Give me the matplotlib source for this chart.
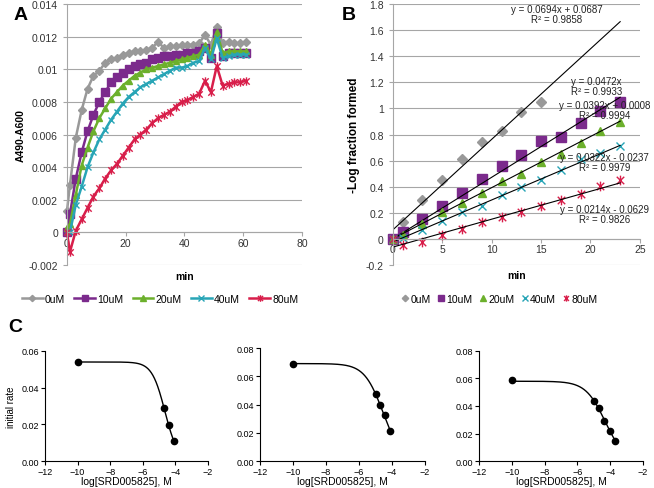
import numpy as np
import matplotlib.pyplot as plt
from matplotlib.path import Path

plt.rcParams['font.family'] = ['Liberation Sans', 'DejaVu Sans']

labels = ['0uM', '10uM', '20uM', '40uM', '80uM']
colors = ['#999999', '#7b2a8c', '#6cb02c', '#28a5b6', '#d81e4a']

# panel A: absorbance vs time
t_a = [0, 1, 3, 5, 7, 9, 11, 13, 15, 17, 19, 21, 23, 25, 27, 29, 31, 33, 35, 37,
       39, 41, 43, 45, 47, 49, 51, 53, 55, 57, 59, 61]
a_0 = [0.0013, 0.0029, 0.0058, 0.0075, 0.0088, 0.0096, 0.0099, 0.0104, 0.0106, 0.0107,
       0.0109, 0.0110, 0.0111, 0.0111, 0.0112, 0.0113, 0.0117, 0.0113, 0.0114, 0.0114,
       0.0115, 0.0115, 0.0115, 0.0116, 0.0121, 0.0115, 0.0126, 0.0116, 0.0117, 0.0116,
       0.0116, 0.0117]
a_10 = [0.0, 0.0011, 0.0033, 0.0049, 0.0062, 0.0072, 0.0080, 0.0086, 0.0092, 0.0095,
        0.0098, 0.0100, 0.0102, 0.0103, 0.0104, 0.0106, 0.0107, 0.0108, 0.0108, 0.0109,
        0.0109, 0.0110, 0.0110, 0.0111, 0.0113, 0.0107, 0.0122, 0.0108, 0.0110, 0.0110,
        0.0110, 0.0110]
a_20 = [0.0003, 0.0005, 0.0023, 0.0041, 0.0052, 0.0062, 0.0070, 0.0076, 0.0082, 0.0086,
        0.0090, 0.0093, 0.0096, 0.0098, 0.0100, 0.0101, 0.0102, 0.0103, 0.0104, 0.0105,
        0.0106, 0.0107, 0.0108, 0.0109, 0.0115, 0.0109, 0.0123, 0.0110, 0.0111, 0.0111,
        0.0111, 0.0111]
a_40 = [0.0, 0.0, 0.0017, 0.0028, 0.0040, 0.0049, 0.0057, 0.0063, 0.0069, 0.0074,
        0.0079, 0.0083, 0.0086, 0.0089, 0.0091, 0.0093, 0.0095, 0.0097, 0.0099, 0.0101,
        0.0101, 0.0102, 0.0104, 0.0105, 0.0113, 0.0106, 0.0119, 0.0107, 0.0108, 0.0109,
        0.0109, 0.0109]
a_80 = [0.0, -0.0012, 0.0001, 0.0008, 0.0015, 0.0022, 0.0027, 0.0033, 0.0038, 0.0042,
        0.0047, 0.0052, 0.0057, 0.0060, 0.0063, 0.0067, 0.0070, 0.0072, 0.0074, 0.0077,
        0.0080, 0.0081, 0.0083, 0.0085, 0.0093, 0.0086, 0.0102, 0.0090, 0.0091, 0.0092,
        0.0092, 0.0093]

# panel B: -log fraction formed
t_b = [0, 1, 3, 5, 7, 9, 11, 13, 15, 17, 19, 21, 23]
b_0 = [0.0, 0.13, 0.30, 0.45, 0.61, 0.745, 0.825, 0.975, 1.05]
b_10 = [0.0, 0.05, 0.15, 0.255, 0.352, 0.459, 0.557, 0.643, 0.753, 0.784, 0.887, 0.978, 1.047]
b_20 = [0.0, 0.03, 0.115, 0.204, 0.276, 0.352, 0.446, 0.498, 0.592, 0.651, 0.735, 0.829, 0.898]
b_40 = [0.0, 0.01, 0.07, 0.14, 0.204, 0.255, 0.337, 0.396, 0.452, 0.531, 0.612, 0.658, 0.714]
b_80 = [0.0, -0.05, -0.02, 0.031, 0.077, 0.128, 0.171, 0.209, 0.250, 0.301, 0.345, 0.403, 0.452]
slopes = [0.0694, 0.0472, 0.0392, 0.0322, 0.0214]
intercepts = [0.0687, 0.0, 0.0008, -0.0237, -0.0629]
fit_text = ['y = 0.0694x + 0.0687\nR² = 0.9858', 'y = 0.0472x\nR² = 0.9933',
            'y = 0.0392x + 0.0008\nR² = 0.9994', 'y = 0.0322x - 0.0237\nR² = 0.9979',
            'y = 0.0214x - 0.0629\nR² = 0.9826']
fit_text_pos = [(16.6, 1.725), (20.6, 1.175), (21.4, 0.985), (21.4, 0.59), (21.4, 0.19)]

# panel C: dose response
c_x = [[-10, -4.7, -4.4, -4.1],
       [-10, -5.0, -4.7, -4.4, -4.1],
       [-10, -5.0, -4.7, -4.4, -4.0, -3.7]]
c_y = [[0.054, 0.029, 0.0195, 0.011],
       [0.069, 0.0475, 0.0394, 0.0325, 0.0214],
       [0.0588, 0.0439, 0.0383, 0.0294, 0.0217, 0.0149]]
c_top = [0.054, 0.069, 0.058]
c_logic50 = [-4.64, -4.55, -4.32]
c_hill = [1.09, 0.77, 0.734]
c_ymax = [0.06, 0.08, 0.08]

# excel style star marker (x plus vertical bar)
star = Path([(-1, -1), (1, 1), (-1, 1), (1, -1), (0, -1.3), (0, 1.3)],
            [Path.MOVETO, Path.LINETO, Path.MOVETO, Path.LINETO, Path.MOVETO, Path.LINETO])
markers = ['D', 's', '^', 'x', star]
msizes = [4, 6, 5, 5, 6]

fig = plt.figure(figsize=(6.54, 4.89), dpi=100)
grid_c = '#a6a6a6'
fs = 7.5

def excel_axes(ax, ylim, yticks, xlim, xticks, yfmt):
    ax.set_xlim(xlim)
    ax.set_ylim(ylim)
    ax.set_yticks(yticks)
    ax.set_yticklabels([yfmt(v) for v in yticks])
    ax.set_xticks(xticks)
    ax.yaxis.grid(True, color=grid_c, lw=0.8)
    ax.set_axisbelow(True)
    for s in ['top', 'right']:
        ax.spines[s].set_visible(False)
    ax.spines['left'].set_color(grid_c)
    ax.spines['bottom'].set_color(grid_c)
    ax.spines['bottom'].set_position(('data', 0))
    ax.tick_params(labelsize=fs, colors='#333333', length=3, color=grid_c)
    ax.tick_params(axis='x', pad=1)

# A
ax = fig.add_axes([0.1024, 0.456, 0.3593, 0.5337])
excel_axes(ax, (-0.002, 0.014), np.arange(-0.002, 0.0141, 0.002), (0, 80), [0, 20, 40, 60, 80],
           lambda v: '0' if abs(v) < 1e-9 else ('%g' % round(v, 3)))
series_a = [a_0, a_10, a_20, a_40, a_80]
for i, s in enumerate(series_a):
    ax.plot(t_a, s, color=colors[i], marker=markers[i], ms=msizes[i], lw=1.8,
            mew=1.0, mec=colors[i], label=labels[i], clip_on=False)
ax.set_ylabel('A490-A600', fontsize=fs, fontweight='bold', labelpad=2)
ax.text(40, -0.00235, 'min', ha='center', va='top', fontsize=fs, fontweight='bold')
ax.legend(loc='center', bbox_to_anchor=(0.396, -0.13), ncol=5, frameon=False,
          fontsize=fs, handlelength=2.0, handletextpad=0.2, columnspacing=0.9,
          markerscale=0.8)

# B
ax = fig.add_axes([0.6005, 0.456, 0.378, 0.5337])
excel_axes(ax, (-0.2, 1.8), np.arange(-0.2, 1.81, 0.2), (0, 25), [0, 5, 10, 15, 20, 25],
           lambda v: '0' if abs(v) < 1e-9 else ('%g' % round(v, 1)))
series_b = [b_0, b_10, b_20, b_40, b_80]
for i, s in enumerate(series_b):
    ax.plot(t_b[:len(s)], s, ls='none', color=colors[i], marker=markers[i],
            ms=msizes[i] + 1, mew=1.0, mec=colors[i], label=labels[i], clip_on=False)
    xx = np.array([0, 23])
    ax.plot(xx, slopes[i] * xx + intercepts[i], color='black', lw=0.8)
    ax.text(fit_text_pos[i][0], fit_text_pos[i][1], fit_text[i], ha='center', va='center',
            fontsize=7, color='#222222', linespacing=1.0, clip_on=False)
ax.set_ylabel('-Log fraction formed', fontsize=fs + 1, fontweight='bold', labelpad=4)
ax.text(12.5, -0.235, 'min', ha='center', va='top', fontsize=fs, fontweight='bold')
ax.legend(loc='center', bbox_to_anchor=(0.434, -0.13), ncol=5, frameon=False,
          fontsize=fs, handlelength=0.6, handletextpad=0.2, columnspacing=0.7,
          markerscale=0.65)

fig.text(14 / 654, 1 - 16 / 489, 'A', fontsize=14, fontweight='bold', va='center')
fig.text(342 / 654, 1 - 16 / 489, 'B', fontsize=14, fontweight='bold', va='center')

# C
c_rects = [[0.0688, 0.0552, 0.2492, 0.225],
           [0.3976, 0.0552, 0.2523, 0.231],
           [0.7324, 0.0552, 0.2508, 0.225]]
for k in range(3):
    ax = fig.add_axes(c_rects[k])
    xs = np.linspace(-10, max(c_x[k]), 300)
    ax.plot(xs, c_top[k] / (1 + 10 ** ((xs - c_logic50[k]) * c_hill[k])), color='black', lw=1.0)
    ax.plot(c_x[k], c_y[k], 'o', color='black', ms=4.5)
    ax.set_xlim(-12, -2)
    ax.set_ylim(0, c_ymax[k])
    ax.set_xticks(np.arange(-12, -1, 2))
    yt = np.arange(0, c_ymax[k] + 0.001, 0.02)
    ax.set_yticks(yt)
    ax.set_yticklabels(['%.2f' % v for v in yt])
    for s in ['top', 'right']:
        ax.spines[s].set_visible(False)
    ax.tick_params(labelsize=6.5, length=3, width=0.8, pad=1)
    ax.set_xlabel('log[SRD005825], M', fontsize=7.5, labelpad=0)
    if k == 0:
        ax.set_ylabel('initial rate', fontsize=7, labelpad=4)

fig.text(0.012, 1 - 327 / 489, 'C', fontsize=14, fontweight='bold', va='center')

fig.savefig('out.png', dpi=100)
